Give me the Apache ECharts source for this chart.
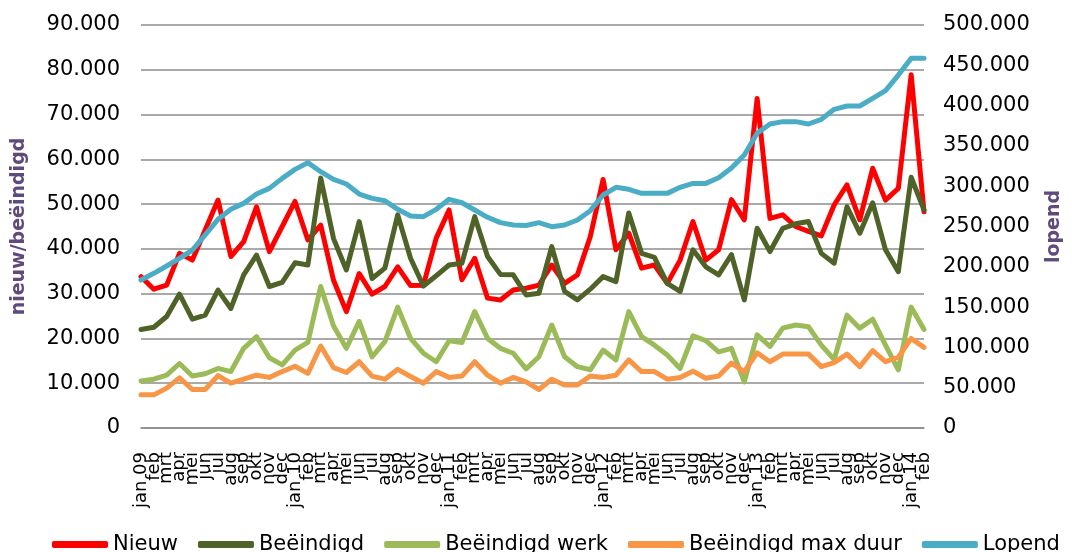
<!DOCTYPE html>
<html>
<head>
<meta charset="utf-8">
<title>nieuw / beëindigd / lopend</title>
<script src="https://cdn.jsdelivr.net/npm/echarts@6/dist/echarts.min.js"></script>
<style>
    html, body { margin: 0; padding: 0; background: #fff; }
    #chart { width: 1072px; height: 552px; }
</style>
</head>
<body>
<div id="chart"></div>
<script>
var maanden = ['jan', 'feb', 'mrt', 'apr', 'mei', 'jun', 'jul', 'aug', 'sep', 'okt', 'nov', 'dec'];
var jaren = ['09', '10', '11', '12', '13', '14'];

var nieuw = [33800, 31000, 31900, 39000, 37500, 44200, 50900, 38300, 41600, 49400, 39400, 45000,
    50600, 42000, 45300, 33000, 26000, 34500, 29900, 31600, 36000, 31800, 31900, 42400,
    48700, 33100, 37900, 29000, 28600, 30800, 31200, 31900, 36400, 32300, 34200, 42700,
    55500, 39800, 43500, 35700, 36400, 32300, 37500, 46100, 37500, 39800, 51000, 46500,
    73600, 46800, 47600, 45000, 43900, 42900, 49800, 54300, 46500, 58000, 50900, 53500,
    78900, 48300];
var beeindigd = [22000, 22500, 24900, 29900, 24300, 25200, 30800, 26700, 34200, 38600, 31600, 32500,
    36900, 36400, 55800, 42300, 35300, 46100, 33400, 35700, 47600, 37900, 31700, 34000,
    36400, 36800, 47200, 38300, 34300, 34200, 29700, 30100, 40500, 30500, 28600, 31000,
    33800, 32700, 48000, 39000, 38100, 32300, 30500, 39800, 36000, 34200, 38700, 28600,
    44600, 39400, 44600, 45600, 46100, 39000, 36800, 49400, 43500, 50300, 39800, 34900,
    56000, 48700];
var beeindigdWerk = [10500, 10900, 11800, 14400, 11600, 12100, 13300, 12600, 17800, 20400, 15700, 14100,
    17400, 19100, 31600, 22800, 17800, 23800, 15900, 19300, 27000, 20000, 16700, 14800,
    19500, 19100, 26000, 20000, 17800, 16700, 13200, 15900, 23000, 15900, 13700, 13000,
    17400, 15200, 26000, 20400, 18500, 16300, 13300, 20600, 19500, 17000, 17800, 10300,
    20800, 18200, 22300, 23000, 22600, 18500, 15300, 25200, 22300, 24300, 18500, 13000,
    27000, 22000];
var beeindigdMaxDuur = [7400, 7400, 8900, 11200, 8600, 8600, 11700, 10000, 10900, 11800, 11300, 12600,
    13800, 12200, 18300, 13500, 12400, 14800, 11600, 10900, 13100, 11500, 10000, 12600,
    11300, 11600, 14800, 11800, 10000, 11300, 10300, 8600, 10900, 9600, 9600, 11600,
    11300, 11800, 15200, 12600, 12600, 10900, 11300, 12700, 11100, 11600, 14500, 12600,
    16800, 14800, 16500, 16500, 16500, 13700, 14600, 16500, 13700, 17300, 14800, 15800,
    20000, 18000];
var lopend = [183600, 191900, 201000, 210500, 220800, 239500, 258900, 271300, 278700, 290300, 297300, 309700,
    320900, 329200, 318000, 308500, 302700, 290300, 284900, 282000, 271300, 263000, 262200, 271300,
    283700, 279500, 270500, 261400, 254800, 251900, 251300, 254800, 249800, 251900, 258100, 269600,
    289100, 298600, 296100, 291100, 291100, 291100, 298600, 303500, 303500, 310500, 322500, 338700,
    365600, 377200, 380100, 380100, 377200, 383000, 395400, 399500, 399500, 409000, 418500, 437900,
    458600, 458600];

// jan 09 t/m feb 14
var categorieen = [];
for (var j = 0; j < jaren.length; j++) {
    for (var m = 0; m < maanden.length; m++) {
        if (j == jaren.length - 1 && m > 1) break;
        categorieen.push(m == 0 ? 'jan ' + jaren[j] : maanden[m]);
    }
}

var font = 'DejaVu Sans, Verdana, sans-serif';

function puntjes(v) {
    return String(v).replace(/\B(?=(\d{3})+(?!\d))/g, '.');
}

function lijn(naam, data, kleur, as) {
    return {
        name: naam,
        type: 'line',
        yAxisIndex: as,
        data: data,
        symbol: 'none',
        smooth: false,
        color: kleur,
        lineStyle: { width: 5, color: kleur, cap: 'round', join: 'round' }
    };
}

var chart = echarts.init(document.getElementById('chart'), null, { renderer: 'canvas' });
var option = {
    backgroundColor: '#ffffff',
    animation: false,
    textStyle: { fontFamily: font },
    grid: { left: 141, right: 142, top: 25, bottom: 124 },
    legend: {
        left: 47,
        top: 529,
        icon: 'roundRect',
        itemWidth: 56,
        itemHeight: 7,
        itemGap: 20,
        textStyle: { fontFamily: font, fontSize: 21, color: '#000' },
        data: ['Nieuw', 'Beëindigd', 'Beëindigd werk', 'Beëindigd max duur', 'Lopend']
    },
    xAxis: {
        type: 'category',
        boundaryGap: false,
        data: categorieen,
        axisLine: { lineStyle: { color: '#8c8c8c', width: 1.5 } },
        axisTick: { show: false },
        axisLabel: {
            interval: 0,
            rotate: 90,
            margin: 24,
            fontFamily: font,
            fontSize: 18,
            color: '#000'
        }
    },
    yAxis: [
        {
            type: 'value',
            min: 0,
            max: 90000,
            interval: 10000,
            name: 'nieuw/beëindigd',
            nameLocation: 'middle',
            nameGap: 112,
            nameRotate: 90,
            nameTextStyle: { fontFamily: font, fontSize: 19, fontWeight: 'bold', color: '#604a7b' },
            axisLine: { show: false },
            axisTick: { show: false },
            axisLabel: { margin: 21, fontFamily: font, fontSize: 21, color: '#000', formatter: puntjes },
            splitLine: { lineStyle: { color: '#8c8c8c', width: 1.5 } }
        },
        {
            type: 'value',
            min: 0,
            max: 500000,
            interval: 50000,
            name: 'lopend',
            nameLocation: 'middle',
            nameGap: 121,
            nameRotate: 90,
            nameTextStyle: { fontFamily: font, fontSize: 19, fontWeight: 'bold', color: '#604a7b' },
            axisLine: { show: false },
            axisTick: { show: false },
            axisLabel: { margin: 19, fontFamily: font, fontSize: 21, color: '#000', formatter: puntjes },
            splitLine: { show: false }
        }
    ],
    series: [
        lijn('Nieuw', nieuw, '#ff0000', 0),
        lijn('Beëindigd', beeindigd, '#4f6228', 0),
        lijn('Beëindigd werk', beeindigdWerk, '#9bbb59', 0),
        lijn('Beëindigd max duur', beeindigdMaxDuur, '#f79646', 0),
        lijn('Lopend', lopend, '#4bacc6', 1)
    ]
};
chart.setOption(option);
</script>
</body>
</html>
